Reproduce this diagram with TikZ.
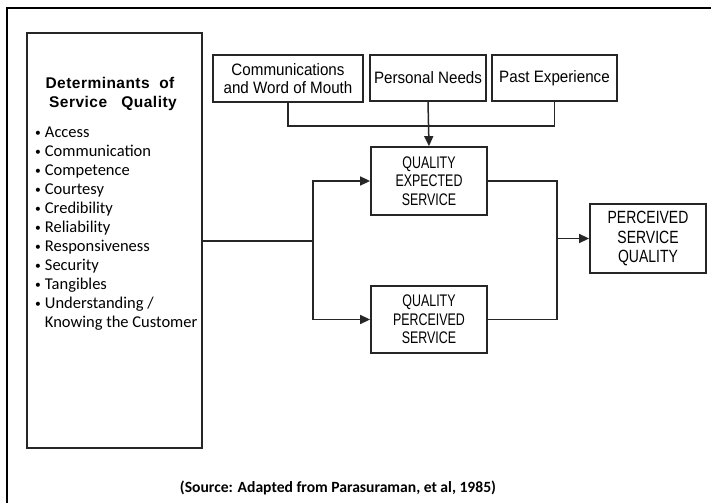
\documentclass[tikz,border=0pt]{standalone}
\usepackage{fontspec}
\usepackage{graphicx}
\setmainfont{Liberation Sans}
\newfontfamily\boxfont[FakeStretch=0.92]{Liberation Sans}
\newfontfamily\capfont[FakeStretch=0.74]{Liberation Sans}
\newfontfamily\bigcapfont[FakeStretch=0.79]{Liberation Sans}
\newfontfamily\headfont[LetterSpace=3]{Liberation Sans}
\newfontfamily\listfont{Carlito}
\newcommand{\smbul}{\raisebox{0.15ex}{\scalebox{0.7}{\textbullet}}}
\usetikzlibrary{arrows.meta}
\begin{document}
\begin{tikzpicture}[x=1pt,y=-1pt,
  box/.style={draw=black!85,line width=1.8pt,inner sep=0pt,align=center},
  topbox/.style={box,font=\boxfont\fontsize{16.5}{18}\selectfont},
  capbox/.style={box,font=\capfont\fontsize{16.8}{18.5}\selectfont},
  bigcap/.style={box,font=\bigcapfont\fontsize{17.7}{19.5}\selectfont},
  conn/.style={draw=black!85,line width=1.5pt},
  arr/.style={conn,-{Triangle[length=10pt,width=9pt]}}]
\useasboundingbox (0,0) rectangle (711,503);
\fill[white] (0,0) rectangle (711,503);
% outer frame (left and top only)
\draw[line width=1.5pt] (7,503) -- (7,8) -- (711,8);

% determinants box
\node[box,minimum width=175pt,minimum height=415pt] (det) at (114.5,240.5) {};
\node[anchor=base,inner sep=0pt,font=\headfont\bfseries\fontsize{15.5}{19}\selectfont] (h1) at (110,88) {Determinants\ \ of};
\node[anchor=base,inner sep=0pt,font=\headfont\bfseries\fontsize{15.5}{19}\selectfont] (h2) at (113,107) {Service\ \ \ Quality};
\node[anchor=base west,inner sep=0pt,font=\listfont\fontsize{16.5}{19}\selectfont] (list) at (35,137.5)
 {\begin{tabular}[t]{@{}l@{\hspace{4pt}}l@{}}
 \smbul & Access\\
 \smbul & Communication\\
 \smbul & Competence\\
 \smbul & Courtesy\\
 \smbul & Credibility\\
 \smbul & Reliability\\
 \smbul & Responsiveness\\
 \smbul & Security\\
 \smbul & Tangibles\\
 \smbul & Understanding /\\
  & Knowing the Customer
 \end{tabular}};

% top boxes
\node[topbox,minimum width=150pt,minimum height=47pt] (comm) at (288,78.5) {Communications\\and Word of Mouth};
\node[topbox,minimum width=116pt,minimum height=46pt] (pn) at (428,78) {Personal Needs};
\node[topbox,minimum width=125pt,minimum height=46pt] (pe) at (554.5,78) {Past Experience};

% middle boxes
\node[capbox,minimum width=116pt,minimum height=68pt] (qes) at (429,181) {QUALITY\\EXPECTED\\SERVICE};
\node[capbox,minimum width=116pt,minimum height=67pt] (qps) at (429,319.5) {QUALITY\\PERCEIVED\\SERVICE};
\node[bigcap,minimum width=116pt,minimum height=69pt] (psq) at (648,238.5) {PERCEIVED\\SERVICE\\QUALITY};

% connectors
\draw[conn] (comm.south) -- ++(0,23) -| (pe.south);
\draw[arr] (pn.south) -- (qes.north);
\coordinate (split) at (313,241);
\draw[conn] (det.east |- split) -- (split);
\draw[arr] (split) |- (qes.west);
\draw[arr] (split) |- (qps.west);
\coordinate (merge) at (557,238.5);
\draw[conn] (qes.east) -| (merge);
\draw[conn] (qps.east) -| (merge);
\draw[arr] (merge) -- (psq.west);

% caption
\node[inner sep=0pt,font=\listfont\bfseries\fontsize{15.6}{18}\selectfont] (src) at (338,488) {(Source: Adapted from Parasuraman, et al, 1985)};
\end{tikzpicture}
\end{document}
